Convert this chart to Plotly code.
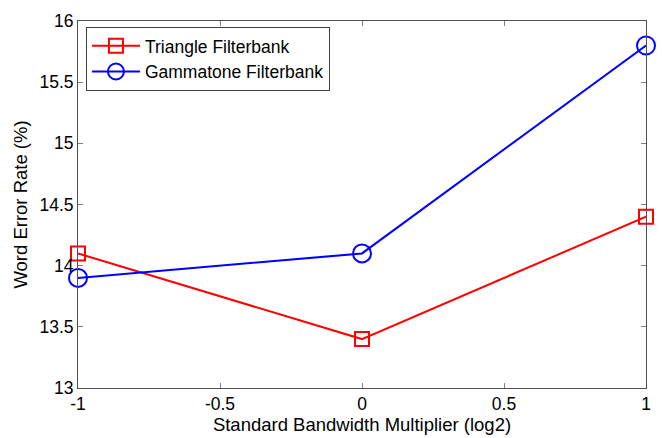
import plotly.graph_objects as go

x_vals = [-1, 0, 1]
triangle = [14.1, 13.4, 14.4]
gammatone = [13.9, 14.1, 15.8]
x_ticks = [-1, -0.5, 0, 0.5, 1]
x_ticklabels = ["-1", "-0.5", "0", "0.5", "1"]
y_ticks = [13, 13.5, 14, 14.5, 15, 15.5, 16]
y_ticklabels = ["13", "13.5", "14", "14.5", "15", "15.5", "16"]

FONT = "Liberation Sans, Arial"

fig = go.Figure()
fig.add_trace(go.Scatter(
    x=x_vals, y=triangle, mode="lines+markers", name="Triangle Filterbank",
    line=dict(color="#FF0000", width=2),
    marker=dict(symbol="square-open", size=14, color="#FF0000", line=dict(width=2)),
    cliponaxis=False))
fig.add_trace(go.Scatter(
    x=x_vals, y=gammatone, mode="lines+markers", name="Gammatone Filterbank",
    line=dict(color="#0000FF", width=2),
    marker=dict(symbol="circle-open", size=18, color="#0000FF", line=dict(width=2)),
    cliponaxis=False))

axis_common = dict(
    showgrid=False, zeroline=False, showline=True, linecolor="#505050", linewidth=1,
    mirror="ticks", ticks="inside", ticklen=5, tickcolor="#808080",
    tickfont=dict(family=FONT, size=17.5, color="black"),
)
fig.update_xaxes(range=[-1, 1], tickvals=x_ticks, ticktext=x_ticklabels,
                 title=dict(text="Standard Bandwidth Multiplier (log2)", standoff=0,
                            font=dict(family=FONT, size=18.5, color="black")),
                 **axis_common)
fig.update_yaxes(range=[13, 16], tickvals=y_ticks, ticktext=y_ticklabels,
                 title=dict(text="Word Error Rate (%)", standoff=6,
                            font=dict(family=FONT, size=18.5, color="black")),
                 **axis_common)

fig.update_layout(
    width=662, height=438,
    margin=dict(l=78, r=11, t=16, b=47),
    paper_bgcolor="white", plot_bgcolor="white",
    font=dict(family=FONT, size=18, color="black"),
    legend=dict(x=0.014, y=0.984, xanchor="left", yanchor="top",
                bgcolor="white", bordercolor="#404040", borderwidth=1,
                font=dict(family=FONT, size=17.5, color="black"),
                itemwidth=48, tracegroupgap=0),
    showlegend=True,
)

fig.write_html("out.html")
